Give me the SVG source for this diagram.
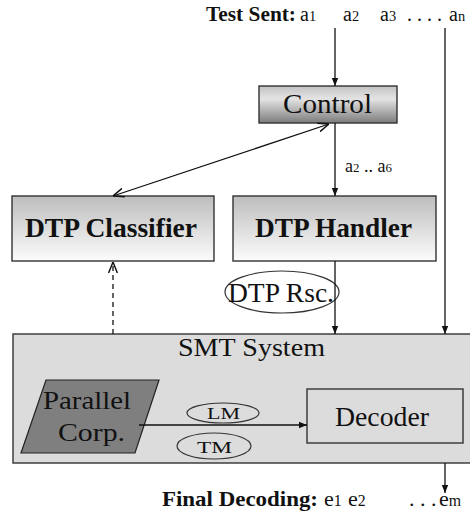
<svg xmlns="http://www.w3.org/2000/svg" width="470" height="518" viewBox="0 0 470 518">
<style>
text{font-family:"Liberation Serif","Times New Roman",serif;fill:#111}
.b{font-weight:bold}
.ln{stroke:#111;stroke-width:1.3;fill:none}
.box{stroke:#333;stroke-width:1.4}
.ell{fill:none;stroke:#333;stroke-width:1.2}
.sub{font-size:72%}
</style>
<defs>
<linearGradient id="gc" x1="0" y1="0" x2="0" y2="1"><stop offset="0" stop-color="#c2c2c2"/><stop offset="0.35" stop-color="#e4e4e4"/><stop offset="1" stop-color="#7c7c7c"/></linearGradient>
<linearGradient id="gd" x1="0" y1="0" x2="0" y2="1"><stop offset="0" stop-color="#bdbdbd"/><stop offset="1" stop-color="#fcfcfc"/></linearGradient>
<marker id="ah" viewBox="0 0 10 10" refX="10" refY="5" markerWidth="8" markerHeight="8" orient="auto-start-reverse" markerUnits="userSpaceOnUse"><path d="M0,1 L10,5 L0,9 Z" fill="#111"/></marker>
<marker id="oa" viewBox="0 0 10 10" refX="10" refY="5" markerWidth="11" markerHeight="11" orient="auto-start-reverse" markerUnits="userSpaceOnUse"><path d="M0,1 L10,5 L0,9" fill="none" stroke="#111" stroke-width="1.3"/></marker>
</defs>
<g id="labels">
<text y="21" font-size="20"><tspan x="206" class="b" textLength="90" lengthAdjust="spacingAndGlyphs">Test Sent:</tspan><tspan x="300">a</tspan><tspan class="sub">1</tspan><tspan x="343">a</tspan><tspan class="sub">2</tspan><tspan x="380">a</tspan><tspan class="sub">3</tspan><tspan x="407">. . . .</tspan><tspan x="449">a</tspan><tspan class="sub">n</tspan></text>
<text y="172" font-size="18"><tspan x="345">a</tspan><tspan class="sub">2</tspan><tspan> .. a</tspan><tspan class="sub">6</tspan></text>
<text y="506" font-size="22"><tspan x="162" class="b" textLength="156" lengthAdjust="spacingAndGlyphs">Final Decoding:</tspan><tspan x="324">e</tspan><tspan class="sub">1</tspan><tspan x="348">e</tspan><tspan class="sub">2</tspan><tspan x="409">. . .</tspan><tspan x="439">e</tspan><tspan class="sub">m</tspan></text>
</g>
<g id="smt">
<rect x="13" y="334" width="460" height="129" fill="#dcdcdc" class="box"/>
<text x="178" y="356" font-size="26" textLength="147" lengthAdjust="spacingAndGlyphs">SMT System</text>
</g>
<g id="control">
<rect x="259" y="86" width="138" height="37" fill="url(#gc)" class="box"/>
<text x="283" y="113" font-size="27" textLength="89" lengthAdjust="spacingAndGlyphs">Control</text>
</g>
<g id="classifier">
<rect x="12" y="196" width="202" height="65" fill="url(#gd)" class="box"/>
<text x="25" y="237" font-size="27" class="b" textLength="172" lengthAdjust="spacingAndGlyphs">DTP Classifier</text>
</g>
<g id="handler">
<rect x="233" y="196" width="203" height="65" fill="url(#gd)" class="box"/>
<text x="255" y="237" font-size="27" class="b" textLength="157" lengthAdjust="spacingAndGlyphs">DTP Handler</text>
</g>
<g id="rsc">
<ellipse cx="282" cy="292" rx="57" ry="21" class="ell"/>
<text x="228" y="302" font-size="27" textLength="106" lengthAdjust="spacingAndGlyphs">DTP Rsc.</text>
</g>
<g id="corpus">
<polygon points="46,380 159,380 135,453 21,453" fill="#7f7f7f" stroke="#222" stroke-width="1.2"/>
<text x="43" y="409" font-size="26" textLength="88" lengthAdjust="spacingAndGlyphs">Parallel</text>
<text x="58" y="441" font-size="26" textLength="67" lengthAdjust="spacingAndGlyphs">Corp.</text>
</g>
<g id="decoder">
<rect x="307" y="389" width="156" height="54" fill="#dcdcdc" class="box"/>
<text x="335" y="426" font-size="27" textLength="94" lengthAdjust="spacingAndGlyphs">Decoder</text>
</g>
<g id="lm">
<ellipse cx="223" cy="413" rx="36" ry="10" class="ell"/>
<text x="207" y="419" font-size="17" textLength="33" lengthAdjust="spacingAndGlyphs">LM</text>
</g>
<g id="tm">
<ellipse cx="214" cy="446" rx="37" ry="13" class="ell"/>
<text x="197" y="453" font-size="17" textLength="35" lengthAdjust="spacingAndGlyphs">TM</text>
</g>
<g id="connectors">
<line x1="335" y1="28" x2="335" y2="86" class="ln" marker-end="url(#ah)"/>
<line x1="335" y1="123" x2="335" y2="196" class="ln" marker-end="url(#ah)"/>
<line x1="113" y1="196" x2="329" y2="124" class="ln" marker-start="url(#oa)" marker-end="url(#oa)"/>
<line x1="335" y1="261" x2="335" y2="334" class="ln" marker-end="url(#ah)"/>
<line x1="445" y1="28" x2="445" y2="334" class="ln" marker-end="url(#ah)"/>
<line x1="113" y1="334" x2="113" y2="262" class="ln" stroke-dasharray="5,4" marker-end="url(#oa)"/>
<line x1="139" y1="425" x2="307" y2="425" class="ln" marker-end="url(#ah)"/>
<line x1="445" y1="463" x2="445" y2="493" class="ln" marker-end="url(#ah)"/>
</g>
</svg>
